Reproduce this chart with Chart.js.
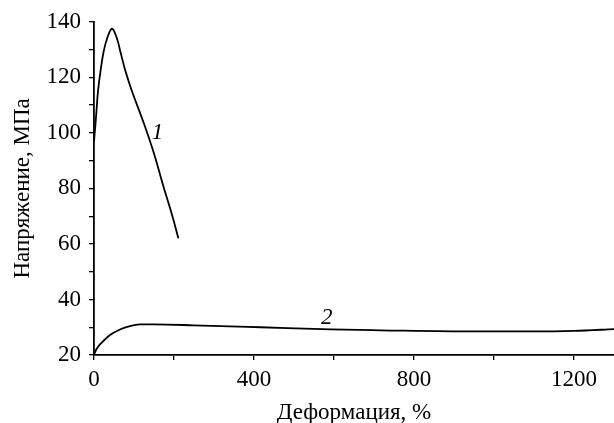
<!DOCTYPE html>
<html>
<head>
<meta charset="utf-8">
<script src="https://cdn.jsdelivr.net/npm/chart.js@4.4.1/dist/chart.umd.min.js"></script>
<style>
  body { margin: 0; background: #fff; }
  #wrap { width: 614px; height: 423px; position: relative; }
</style>
</head>
<body>
<div id="wrap"><canvas id="chart"></canvas></div>
<script>
// curve 1
const strain1 = [0, 3, 6, 10, 16, 24, 32.6, 45, 57.6, 66, 79, 95, 124, 149, 174, 195, 211];
const stress1 = [97, 102, 107.5, 115, 122, 129.2, 133.9, 137.5, 133.9, 129.2, 122.1, 115, 103.7, 93, 80.5, 70.5, 62];

// curve 2
const strain2 = [1, 5, 10, 15, 23, 40, 65, 90, 115, 150, 249, 416, 592, 717, 951, 1100, 1200, 1302];
const stress2 = [20.5, 21.8, 22.9, 23.8, 25.0, 27.2, 29.2, 30.4, 31.0, 31.0, 30.7, 30.0, 29.2, 28.9, 28.5, 28.5, 28.7, 29.3];

// curve numbers, placed in data coordinates
const curveNames = ["1", "2"];
const nameX = [159, 582];
const nameY = [100, 33.4];

const xMajor = 400;
const yMajor = 20;

const FONT = "'Liberation Serif', 'Times New Roman', serif";

function toPoints(xs, ys) {
  return xs.map((x, i) => ({ x: x, y: ys[i] }));
}

const curveLabels = {
  id: "curveLabels",
  afterDatasetsDraw(chart) {
    const ctx = chart.ctx;
    const xs = chart.scales.x;
    const ys = chart.scales.y;
    ctx.save();
    ctx.font = "italic 23px " + FONT;
    ctx.fillStyle = "#000";
    ctx.textAlign = "center";
    ctx.textBaseline = "middle";
    curveNames.forEach((name, i) => {
      ctx.fillText(name, xs.getPixelForValue(nameX[i]), ys.getPixelForValue(nameY[i]));
    });
    ctx.restore();
  }
};

const axisStyle = {
  grid: {
    display: true,
    drawOnChartArea: false,
    drawTicks: true,
    tickLength: 5,
    color: "#000",
    lineWidth: 1.3
  },
  border: { display: true, color: "#000", width: 1.8 }
};

new Chart(document.getElementById("chart").getContext("2d"), {
  type: "scatter",
  data: {
    datasets: [
      {
        data: toPoints(strain1, stress1),
        showLine: true,
        borderColor: "#000",
        borderWidth: 1.8,
        pointRadius: 0,
        tension: 0.4
      },
      {
        data: toPoints(strain2, stress2),
        showLine: true,
        borderColor: "#000",
        borderWidth: 1.8,
        pointRadius: 0,
        cubicInterpolationMode: "monotone"
      }
    ]
  },
  options: {
    responsive: true,
    maintainAspectRatio: false,
    animation: false,
    layout: { padding: { top: 18, right: 0, left: 0, bottom: 0 } },
    plugins: {
      legend: { display: false },
      tooltip: { enabled: false }
    },
    scales: {
      x: {
        type: "linear",
        min: 0,
        max: 1300,
        ...axisStyle,
        ticks: {
          stepSize: 200,
          includeBounds: false,
          autoSkip: false,
          maxRotation: 0,
          padding: 6,
          color: "#000",
          font: { family: FONT, size: 23 },
          callback: v => (v % xMajor === 0 ? v : "")
        },
        title: {
          display: true,
          text: "Деформация, %",
          color: "#000",
          font: { family: FONT, size: 23 },
          padding: { top: 0, bottom: -4 }
        },
        afterFit: s => { s.height = 68; }
      },
      y: {
        min: 20,
        max: 140,
        ...axisStyle,
        ticks: {
          stepSize: 10,
          autoSkip: false,
          padding: 8,
          color: "#000",
          font: { family: FONT, size: 23 },
          callback: v => (v % yMajor === 0 ? v : "")
        },
        title: {
          display: true,
          text: "Напряжение, МПа",
          color: "#000",
          font: { family: FONT, size: 23 },
          padding: { top: 9, bottom: 0 }
        },
        afterFit: s => { s.width = 94; }
      }
    }
  },
  plugins: [curveLabels]
});
</script>
</body>
</html>
